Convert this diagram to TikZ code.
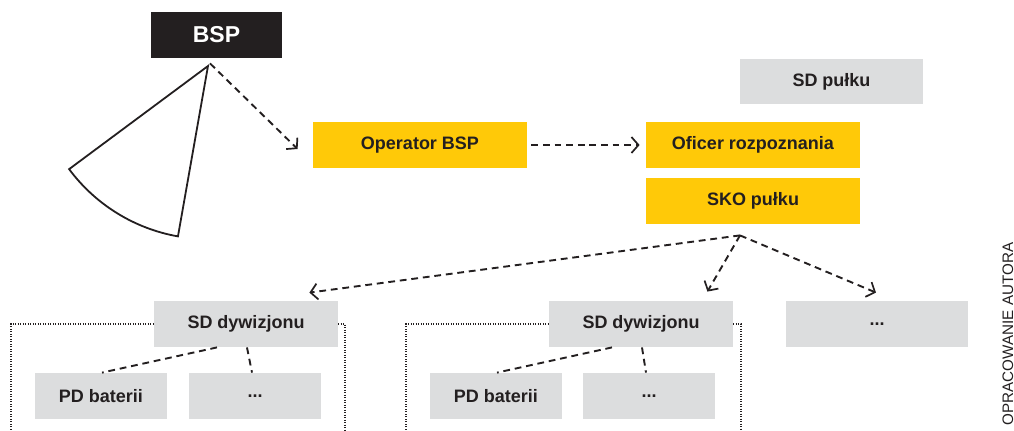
\documentclass[tikz,border=0pt]{standalone}
\usepackage{fontspec}
\setmainfont{Liberation Sans}
\usetikzlibrary{arrows.meta}
\definecolor{bspyellow}{RGB}{255,201,8}
\definecolor{boxgray}{RGB}{220,221,222}
\definecolor{ink}{RGB}{35,31,32}
\begin{document}
\begin{tikzpicture}[x=0.5pt, y=-0.5pt,
    box/.style={minimum height=23pt, inner sep=0pt, text=ink, font=\fontsize{9}{11}\selectfont\bfseries},
    yellowbox/.style={box, fill=bspyellow, minimum width=107pt},
    graybox/.style={box, fill=boxgray},
    link/.style={draw=ink, line width=0.95pt, dash pattern=on 3.4pt off 2.4pt, -{Straight Barb[length=3.5pt, width=8pt, line width=0.85pt]}},
    tie/.style={draw=ink, line width=0.95pt, dash pattern=on 3.4pt off 2.4pt},
    frame/.style={draw=ink, line width=0.8pt, dash pattern=on 0.45pt off 0.8pt}]
      \useasboundingbox (0,0) rectangle (1014,430);
      % dotted frames behind the groups
      \draw[frame] (11,432) |- (246-92,324) (338,324) -| (345,432);
      \draw[frame] (406,432) |- (641-92,324) (733,324) -| (741,432);
      % top part
      \node[box, fill=ink, text=white, minimum width=65.5pt, font=\fontsize{11.5}{13}\selectfont\bfseries] (bsp) at (216.5,35) {BSP};
      \coordinate (apex) at (208,66);
      \draw[draw=ink, line width=0.9pt] (apex) -- ++(216.6:86.5pt) arc[start angle=216.6, end angle=260, radius=86.5pt] -- cycle;
      \node[yellowbox] (oper) at (420,145) {Operator BSP};
      \node[yellowbox] (ofic) at (753,145) {Oficer rozpoznania};
      \node[yellowbox] (sko) at (753,201) {SKO pułku};
      \node[graybox, minimum width=91.5pt, minimum height=22.5pt] (sdp) at (831.5,81.5) {SD pułku};
      \draw[link] ([shift={(-6.5,5)}]bsp.south) -- ([shift={(-15,4)}]oper.west);
      \draw[link, shorten <=2pt, shorten >=3pt] (oper) -- (ofic);
      % bottom part
      \node[graybox, minimum width=92pt] (sdd1) at (246,324) {SD dywizjonu};
      \node[graybox, minimum width=66pt] (pd1) at (101,396) {PD baterii};
      \node[graybox, minimum width=66pt] (dots1) at (255,396) {...};
      \node[graybox, minimum width=92pt] (sdd2) at (641,324) {SD dywizjonu};
      \node[graybox, minimum width=66pt] (pd2) at (496,396) {PD baterii};
      \node[graybox, minimum width=66pt] (dots2) at (649,396) {...};
      \node[graybox, minimum width=91pt] (dots3) at (877,324) {...};
      \coordinate (fan) at ([shift={(-13,11)}]sko.south);
      \draw[link] (fan) -- ([shift={(-29,-8)}]sdd1.north east);
      \draw[link] (fan) -- ([shift={(-26,-9)}]sdd2.north east);
      \draw[link] (fan) -- ([shift={(-1,-8)}]dots3.north);
      \draw[tie] ([xshift=-14.5pt]sdd1.south) -- ([xshift=0.5pt]pd1.north);
      \draw[tie] ([xshift=0.5pt]sdd1.south) -- ([xshift=-1.5pt]dots1.north);
      \draw[tie] ([xshift=-14.5pt]sdd2.south) -- ([xshift=0.5pt]pd2.north);
      \draw[tie] ([xshift=0.5pt]sdd2.south) -- ([xshift=-1.5pt]dots2.north);
      \node[rotate=90, text=ink, font=\fontsize{7.6}{9}\selectfont] (src) at (1008,334) {OPRACOWANIE AUTORA};
    \end{tikzpicture}
\end{document}
